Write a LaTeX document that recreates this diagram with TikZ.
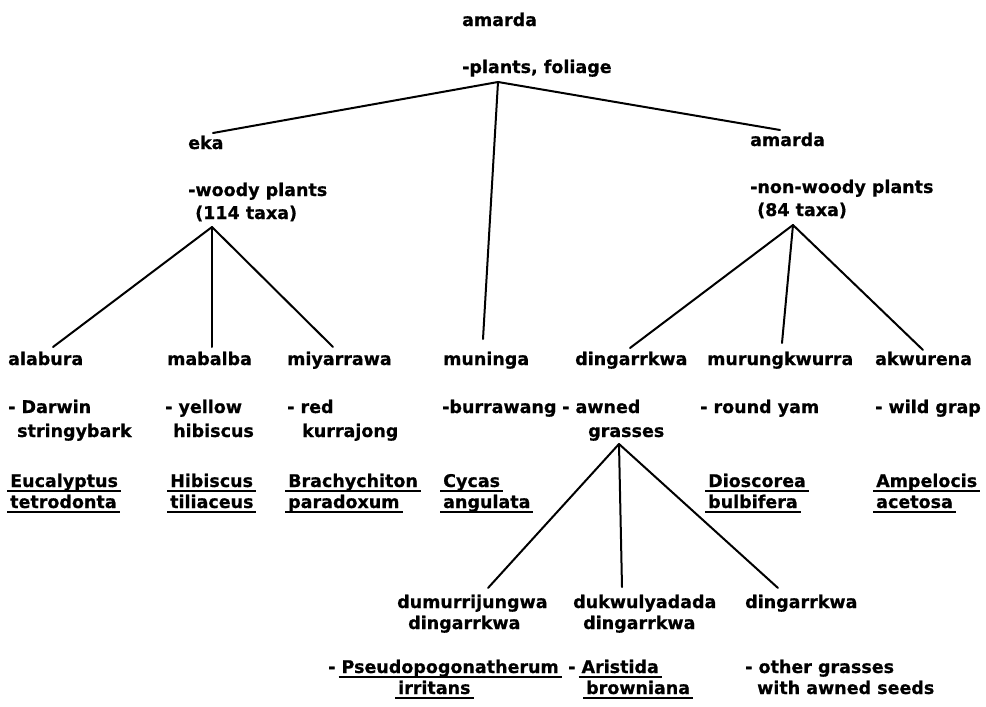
\documentclass[tikz,border=0pt]{standalone}
\usepackage{fontspec}
\setmainfont{DejaVu Sans}[BoldFeatures={FakeBold=0.6}]
% scientific names are underlined with a heavy rule that runs through the descenders
\newcommand{\sciname}[1]{\setbox0=\hbox{#1}\rlap{\kern-3pt\rule[-5pt]{\dimexpr\wd0+6pt\relax}{2.5pt}}\box0}
\begin{document}
\begin{tikzpicture}[x=1pt,y=-1pt,
  lbl/.style={anchor=base west, inner sep=0pt, font=\bfseries\fontsize{17.5}{21}\selectfont},
  branch/.style={line width=2pt, line cap=round}]
\useasboundingbox (0,0) rectangle (986,707);

% ---- root ----
\node[lbl] (root)  at (462,26) {amarda};
\node[lbl] (rootd) at (462,73) {-plants, foliage};

% ---- second level ----
\node[lbl] (eka)    at (188,149) {eka};
\node[lbl] (ekad)   at (188,196) {-woody plants};
\node[lbl] (ekat)   at (195,219) {(114 taxa)};
\node[lbl] (amr)    at (750,146) {amarda};
\node[lbl] (amrd)   at (750,193) {-non-woody plants};
\node[lbl] (amrt)   at (757,216) {(84 taxa)};

% ---- leaf names ----
\node[lbl] (alabura) at (8,365)   {alabura};
\node[lbl] (mabalba) at (167,365) {mabalba};
\node[lbl] (miyarr)  at (287,365) {miyarrawa};
\node[lbl] (muninga) at (443,365) {muninga};
\node[lbl] (dingar)  at (575,365) {dingarrkwa};
\node[lbl] (murung)  at (707,365) {murungkwurra};
\node[lbl] (akwur)   at (875,365) {akwurena};

% ---- glosses ----
\node[lbl] (alad1) at (8,413)   {- Darwin};
\node[lbl] (alad2) at (17,437)  {stringybark};
\node[lbl] (mabd1) at (165,413) {- yellow};
\node[lbl] (mabd2) at (173,437) {hibiscus};
\node[lbl] (miyd1) at (287,413) {- red};
\node[lbl] (miyd2) at (302,437) {kurrajong};
\node[lbl] (mund)  at (442,413) {-burrawang};
\node[lbl] (dind1) at (562,413) {- awned};
\node[lbl] (dind2) at (588,437) {grasses};
\node[lbl] (murd)  at (700,413) {- round yam};
\node[lbl] (akwd)  at (875,413) {- wild grap};

% ---- scientific names ----
\node[lbl] (ala1) at (10,487)  {\sciname{Eucalyptus}};
\node[lbl] (ala2) at (10,508)  {\sciname{tetrodonta}};
\node[lbl] (mab1) at (170,487) {\sciname{Hibiscus}};
\node[lbl] (mab2) at (170,508) {\sciname{tiliaceus}};
\node[lbl] (miy1) at (288,487) {\sciname{Brachychiton}};
\node[lbl] (miy2) at (288,508) {\sciname{paradoxum}};
\node[lbl] (mun1) at (443,487) {\sciname{Cycas}};
\node[lbl] (mun2) at (443,508) {\sciname{angulata}};
\node[lbl] (mur1) at (708,487) {\sciname{Dioscorea}};
\node[lbl] (mur2) at (708,508) {\sciname{bulbifera}};
\node[lbl] (akw1) at (876,487) {\sciname{Ampelocis}};
\node[lbl] (akw2) at (876,508) {\sciname{acetosa}};

% ---- awned grasses ----
\node[lbl] (dum1) at (397,608) {dumurrijungwa};
\node[lbl] (dum2) at (408,629) {dingarrkwa};
\node[lbl] (duk1) at (573,608) {dukwulyadada};
\node[lbl] (duk2) at (583,629) {dingarrkwa};
\node[lbl] (dio)  at (745,608) {dingarrkwa};

\node[lbl] (dumd1) at (328,673) {- \sciname{Pseudopogonatherum}};
\node[lbl] (dumd2) at (398,694) {\sciname{irritans}};
\node[lbl] (dukd1) at (568,673) {- \sciname{Aristida}};
\node[lbl] (dukd2) at (586,694) {\sciname{browniana}};
\node[lbl] (diod1) at (745,673) {- other grasses};
\node[lbl] (diod2) at (757,694) {with awned seeds};

% ---- branch points and branch ends ----
\coordinate (jRoot)  at (498,82);
\coordinate (jEka)   at (212,227);
\coordinate (jAmr)   at (793,225);
\coordinate (jGrass) at (619,444);

\coordinate (eEka)  at (213,133);
\coordinate (eAmr)  at (780,130);
\coordinate (eMun)  at (483,339);
\coordinate (eAla)  at (53,347);
\coordinate (eMab)  at (212,347);
\coordinate (eMiy)  at (333,347);
\coordinate (eDin)  at (630,348);
\coordinate (eMur)  at (782,343);
\coordinate (eAkw)  at (923,350);
\coordinate (eDum)  at (488,588);
\coordinate (eDuk)  at (622,587);
\coordinate (eDio)  at (778,588);

\draw[branch] (jRoot) -- (eEka);
\draw[branch] (jRoot) -- (eAmr);
\draw[branch] (jRoot) -- (eMun);

\draw[branch] (jEka) -- (eAla);
\draw[branch] (jEka) -- (eMab);
\draw[branch] (jEka) -- (eMiy);

\draw[branch] (jAmr) -- (eDin);
\draw[branch] (jAmr) -- (eMur);
\draw[branch] (jAmr) -- (eAkw);

\draw[branch] (jGrass) -- (eDum);
\draw[branch] (jGrass) -- (eDuk);
\draw[branch] (jGrass) -- (eDio);
\end{tikzpicture}
\end{document}
